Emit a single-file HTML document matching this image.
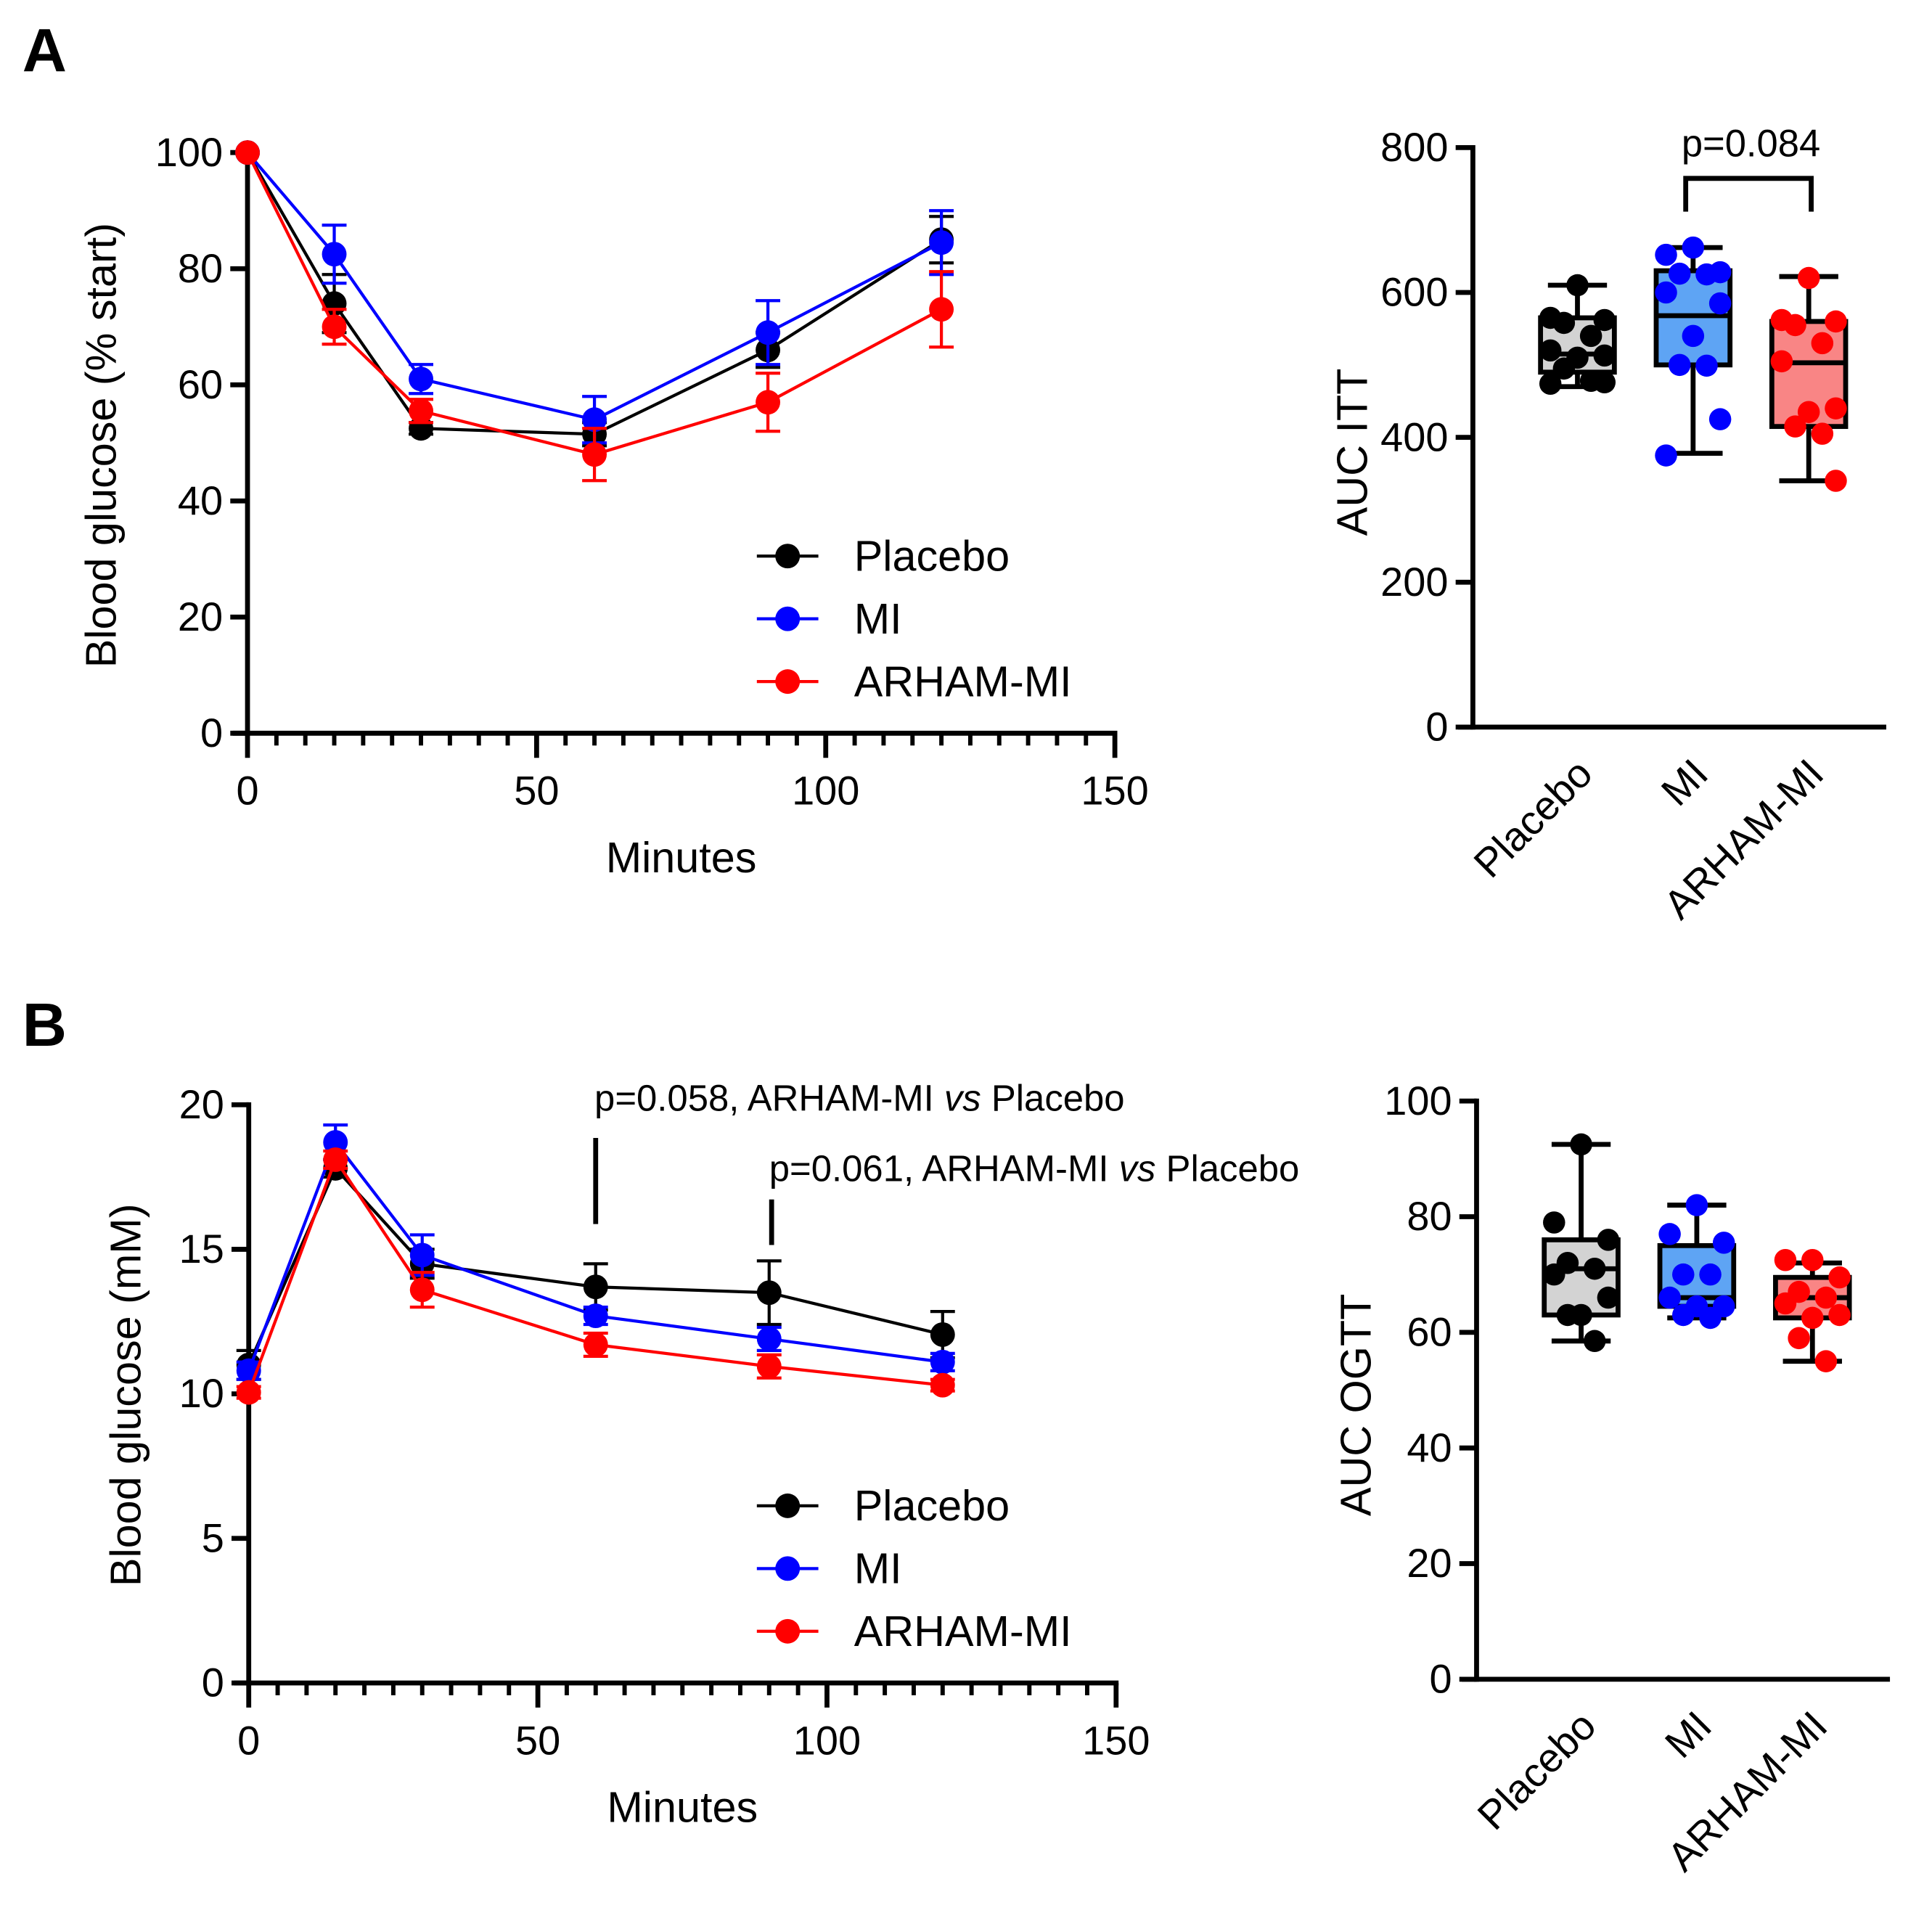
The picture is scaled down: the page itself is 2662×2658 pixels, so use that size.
<!DOCTYPE html>
<html><head><meta charset="utf-8"><style>
html,body{margin:0;padding:0;background:#fff;}
svg{display:block;font-family:"Liberation Sans",Arial,sans-serif;}
</style></head><body>
<svg id="fig" width="2662" height="2658" viewBox="0 0 1570 1568" xmlns="http://www.w3.org/2000/svg">
<text x="18" y="58" font-size="50" font-weight="bold">A</text>
<text x="18" y="850" font-size="50" font-weight="bold">B</text>
</svg>
<script>
// ---- data ----
const times = [0, 15, 30, 60, 90, 120];
const seriesNames = ["Placebo", "MI", "ARHAM-MI"];
const colors = ["#000", "#0000ff", "#ff0000"];
const ittPlacebo = [100, 74, 52.5, 51.5, 66, 85];
const ittPlaceboErr = [0, 5, 1, 2, 3, 4];
const ittMI = [100, 82.5, 61, 54, 69, 84.5];
const ittMIErr = [0, 5, 2.5, 4, 5.5, 5.5];
const ittARHAM = [100, 70, 55.5, 48, 57, 73];
const ittARHAMErr = [0, 3, 2, 4.5, 5, 6.5];
const ogttPlacebo = [11, 17.8, 14.5, 13.7, 13.5, 12.05];
const ogttPlaceboErr = [0.5, 0.3, 0.5, 0.8, 1.1, 0.8];
const ogttMI = [10.8, 18.7, 14.8, 12.7, 11.9, 11.1];
const ogttMIErr = [0.3, 0.6, 0.7, 0.3, 0.4, 0.3];
const ogttARHAM = [10.05, 18.1, 13.6, 11.7, 10.95, 10.3];
const ogttARHAMErr = [0.2, 0.3, 0.6, 0.4, 0.4, 0.2];
const xTicks = [0, 50, 100, 150];
const ittYTicks = [0, 20, 40, 60, 80, 100];
const ogttYTicks = [0, 5, 10, 15, 20];
const aucIttTicks = [0, 200, 400, 600, 800];
const aucOgttTicks = [0, 20, 40, 60, 80, 100];
// box stats: min, q1, median, q3, max
const aucIttStats = [[470, 490, 515, 565, 610], [378, 500, 568, 630, 662], [340, 415, 503, 560, 622]];
const aucIttPlaceboPts = [610, 565, 562, 558, 540, 520, 513, 510, 495, 478, 476, 474];
const aucIttMIPts = [662, 652, 628, 626, 625, 600, 585, 540, 500, 499, 425, 375];
const aucIttARHAMPts = [620, 562, 560, 555, 530, 505, 440, 435, 415, 405, 340];
const aucOgttStats = [[58.5, 63, 71, 76, 92.5], [62.5, 64.5, 66, 75, 82], [55, 62.5, 66, 69.5, 72]];
const aucOgttPlaceboPts = [92.5, 79, 76, 72, 71, 70, 66, 63, 63, 58.5];
const aucOgttMIPts = [82, 77, 75.5, 70, 70, 66, 64.5, 64.5, 63, 62.5];
const aucOgttARHAMPts = [72.5, 72.5, 69.5, 67, 66, 65, 63, 62.5, 59, 55];

const NS = "http://www.w3.org/2000/svg";
const svg = document.getElementById("fig");
function mk(tag, attrs, parent) {
  const e = document.createElementNS(NS, tag);
  for (const k in attrs) e.setAttribute(k, attrs[k]);
  (parent || svg).appendChild(e);
  return e;
}
function txt(x, y, s, size, anchor, parent, extra) {
  const t = mk("text", Object.assign({x: x, y: y, "font-size": size, "text-anchor": anchor || "start"}, extra || {}), parent);
  t.textContent = s;
  return t;
}

function linePanel(cfg) {
  const g = mk("g", {});
  
  
  const sx = v => cfg.x0 + (v / 150) * (cfg.x1 - cfg.x0);
  const sy = v => cfg.yb - (v / cfg.ymax) * (cfg.yb - cfg.yt);
  const ya = mk("line", {x1: cfg.x0, y1: cfg.yt - 2, x2: cfg.x0, y2: cfg.yb + 2, stroke: "#000", "stroke-width": 4}, g);
  
  
  const xa = mk("line", {x1: cfg.x0 - 12, y1: cfg.yb, x2: cfg.x1 + 2, y2: cfg.yb, stroke: "#000", "stroke-width": 4}, g);
  
  
  for (let m = 5; m < 150; m += 5) {
    if (m % 50 === 0) continue;
    mk("line", {x1: sx(m), y1: cfg.yb, x2: sx(m), y2: cfg.yb + 10, stroke: "#000", "stroke-width": 3.5}, g);
  }
  xTicks.forEach(v => {
    mk("line", {x1: sx(v), y1: cfg.yb, x2: sx(v), y2: cfg.yb + 20, stroke: "#000", "stroke-width": 4}, g);
    const t = txt(sx(v), cfg.yb + 58, String(v), 33, "middle", g);
    
    
  });
  cfg.yTicks.forEach(v => {
    mk("line", {x1: cfg.x0 - 14, y1: sy(v), x2: cfg.x0, y2: sy(v), stroke: "#000", "stroke-width": 4}, g);
    const t = txt(cfg.x0 - 20, sy(v) + 11, String(v), 33, "end", g);
    
    
  });
  const xt = txt((cfg.x0 + cfg.x1) / 2, cfg.yb + 113, "Minutes", 35, "middle", g);
  
  
  const yt = txt(0, 0, cfg.ylabel, 35, "middle", g, {transform: "translate(" + cfg.ylx + "," + cfg.yly + ") rotate(-90)"});
  
  
  cfg.series.forEach((s, i) => {
    const sg = mk("g", {}, g);
    
    
    const pts = s.vals.map((v, j) => sx(times[j]) + "," + sy(v)).join(" ");
    mk("polyline", {points: pts, fill: "none", stroke: colors[i], "stroke-width": 2.5}, sg);
    s.vals.forEach((v, j) => {
      const e = s.err[j];
      if (e > 0) {
        const x = sx(times[j]);
        mk("line", {x1: x, y1: sy(v + e), x2: x, y2: sy(v - e), stroke: colors[i], "stroke-width": 2.5}, sg);
        mk("line", {x1: x - 10, y1: sy(v + e), x2: x + 10, y2: sy(v + e), stroke: colors[i], "stroke-width": 2.5}, sg);
        mk("line", {x1: x - 10, y1: sy(v - e), x2: x + 10, y2: sy(v - e), stroke: colors[i], "stroke-width": 2.5}, sg);
      }
      const c = mk("circle", {cx: sx(times[j]), cy: sy(v), r: 10, fill: colors[i]}, sg);
      
      
    });
  });
  seriesNames.forEach((n, i) => {
    const y = cfg.legY + i * 51;
    const lg = mk("g", {}, g);
    
    
    mk("line", {x1: 615, y1: y, x2: 665, y2: y, stroke: colors[i], "stroke-width": 2.5}, lg);
    mk("circle", {cx: 640, cy: y, r: 10, fill: colors[i]}, lg);
    txt(694, y + 12, n, 35, "start", lg);
  });
}

function boxPanel(cfg) {
  const g = mk("g", {});
  
  
  const sy = v => cfg.yb - (v / cfg.ymax) * (cfg.yb - cfg.yt);
  const xs = [cfg.x0 + 85, cfg.x0 + 179, cfg.x0 + 273];
  const ya = mk("line", {x1: cfg.x0, y1: cfg.yt - 2, x2: cfg.x0, y2: cfg.yb + 2, stroke: "#000", "stroke-width": 4}, g);
  
  
  const xa = mk("line", {x1: cfg.x0 - 12, y1: cfg.yb, x2: cfg.x0 + 336, y2: cfg.yb, stroke: "#000", "stroke-width": 4}, g);
  
  
  cfg.ticks.forEach(v => {
    mk("line", {x1: cfg.x0 - 14, y1: sy(v), x2: cfg.x0, y2: sy(v), stroke: "#000", "stroke-width": 4}, g);
    const t = txt(cfg.x0 - 20, sy(v) + 11, String(v), 33, "end", g);
    
    
  });
  const yt = txt(0, 0, cfg.ylabel, 35, "middle", g, {transform: "translate(" + (cfg.x0 - 86) + "," + ((cfg.yt + cfg.yb) / 2 + 12) + ") rotate(-90)"});
  
  
  const fills = ["#d3d3d3", "#5ea4f4", "#f98585"];
  const jit = [0, -22, 22, -11, 11, -22, 22, 0, -11, 11, 22, -22];
  cfg.stats.forEach((s, i) => {
    const x = xs[i];
    const bg = mk("g", {}, g);
    
    
    mk("line", {x1: x, y1: sy(s[0]), x2: x, y2: sy(s[4]), stroke: "#000", "stroke-width": 4}, bg);
    mk("line", {x1: x - 24, y1: sy(s[0]), x2: x + 24, y2: sy(s[0]), stroke: "#000", "stroke-width": 4}, bg);
    mk("line", {x1: x - 24, y1: sy(s[4]), x2: x + 24, y2: sy(s[4]), stroke: "#000", "stroke-width": 4}, bg);
    mk("rect", {x: x - 30, y: sy(s[3]), width: 60, height: sy(s[1]) - sy(s[3]), fill: fills[i], stroke: "#000", "stroke-width": 4}, bg);
    mk("line", {x1: x - 30, y1: sy(s[2]), x2: x + 30, y2: sy(s[2]), stroke: "#000", "stroke-width": 4}, bg);
    cfg.pts[i].forEach((v, j) => {
      const c = mk("circle", {cx: x + jit[j % jit.length], cy: sy(v), r: 9, fill: colors[i]}, bg);
      
      
    });
    const lt = txt(0, 0, seriesNames[i], 33, "end", g, {transform: "translate(" + (x + 14) + "," + (cfg.yb + 40) + ") rotate(-45)"});
    
    
  });
}

linePanel({name: "itt-line-chart", x0: 201, x1: 906, yt: 124, yb: 596, ymax: 100, yTicks: ittYTicks,
  ylabel: "Blood glucose (% start)", ylx: 94, yly: 362, legY: 452,
  series: [{vals: ittPlacebo, err: ittPlaceboErr}, {vals: ittMI, err: ittMIErr}, {vals: ittARHAM, err: ittARHAMErr}]});
linePanel({name: "ogtt-line-chart", x0: 202, x1: 907, yt: 898, yb: 1368, ymax: 20, yTicks: ogttYTicks,
  ylabel: "Blood glucose (mM)", ylx: 114, yly: 1134, legY: 1224,
  series: [{vals: ogttPlacebo, err: ogttPlaceboErr}, {vals: ogttMI, err: ogttMIErr}, {vals: ogttARHAM, err: ogttARHAMErr}]});
boxPanel({name: "auc-itt-boxplot", x0: 1197, yt: 120, yb: 591, ymax: 800, ticks: aucIttTicks, ylabel: "AUC ITT",
  stats: aucIttStats, pts: [aucIttPlaceboPts, aucIttMIPts, aucIttARHAMPts]});
boxPanel({name: "auc-ogtt-boxplot", x0: 1200, yt: 895, yb: 1365, ymax: 100, ticks: aucOgttTicks, ylabel: "AUC OGTT",
  stats: aucOgttStats, pts: [aucOgttPlaceboPts, aucOgttMIPts, aucOgttARHAMPts]});

const br = mk("path", {d: "M1370 172 V145 H1472 V172", fill: "none", stroke: "#000", "stroke-width": 4});


const pv = txt(1423, 127, "p=0.084", 31, "middle");



const a1 = mk("line", {x1: 484, y1: 925, x2: 484, y2: 995, stroke: "#000", "stroke-width": 4});


const a2 = mk("line", {x1: 627, y1: 975, x2: 627, y2: 1012, stroke: "#000", "stroke-width": 4});


function annot(x, y, name, p) {
  const t = mk("text", {x: x, y: y, "font-size": 30});
  
  
  t.appendChild(document.createTextNode("p=" + p + ", ARHAM-MI "));
  const it = mk("tspan", {"font-style": "italic"}, t);
  it.textContent = "vs";
  t.appendChild(document.createTextNode(" Placebo"));
}
annot(483, 903, "annotation-60", "0.058");
annot(625, 960, "annotation-90", "0.061");
</script>
</body></html>
